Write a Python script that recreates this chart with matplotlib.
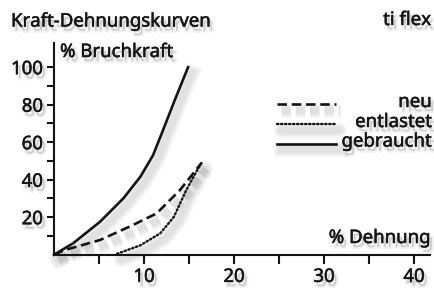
import matplotlib
matplotlib.use("Agg")
import matplotlib.pyplot as plt
import matplotlib.patheffects as pe
from matplotlib.lines import Line2D

# ---- data ----
neu_x = [0, 1.2, 5.1, 8.4, 11.4, 14.0, 16.4]
neu_y = [0, 2.5, 7.8, 15, 22, 34.5, 49]
entlastet_x = [7.0, 9.6, 11.8, 13.3, 14.7, 15.9, 16.4]
entlastet_y = [0.5, 5, 11.4, 20, 34.5, 45, 49]
gebraucht_x = [0, 2.1, 5.1, 7.7, 9.6, 11.0, 12.0, 13.3, 14.9]
gebraucht_y = [0, 6, 17.5, 30, 41.6, 53, 65, 81, 100]

x_ticks = [5, 10, 15, 20, 25, 30, 35, 40]
x_tick_labels = ["", "10", "", "20", "", "30", "", "40"]
y_ticks = [10, 20, 30, 40, 50, 60, 70, 80, 90, 100]
y_tick_labels = ["", "20", "", "40", "", "60", "", "80", "", "100"]
series_labels = ["neu", "entlastet", "gebraucht"]

FONT = ["Noto Sans", "DejaVu Sans"]
plt.rcParams["font.family"] = FONT
TXT = "#141414"
FS = 13.4

W, H = 434, 288
fig = plt.figure(figsize=(W / 100, H / 100), dpi=100)
fig.patch.set_facecolor("white")


def fx(x):
    return x / W


def fy(y):
    return 1 - y / H


def line_shadow():
    return [pe.SimpleLineShadow(offset=(3, -4), shadow_color="#000000", alpha=0.04, linewidth=w)
            for w in (11, 8, 5)] + [pe.Normal()]


def text_shadow():
    return [pe.SimplePatchShadow(offset=(2, -3), shadow_rgbFace="#000000", alpha=0.12),
            pe.Stroke(offset=(2, -3), linewidth=3, foreground="#000000", alpha=0.05),
            pe.Stroke(linewidth=0.35, foreground=TXT),
            pe.Normal()]


# axes: x 0 at px 54, 9 px/unit ; y 0 at px 254.7, 1.875 px/unit
x0, y0 = 54, 254.7
xmax, ymax = 41.8, 113
ax = fig.add_axes([fx(x0), fy(y0), (xmax * 9) / W, (ymax * 1.875) / H])
ax.set_xlim(0, xmax)
ax.set_ylim(0, ymax)
ax.patch.set_alpha(0)
for s in ("top", "right"):
    ax.spines[s].set_visible(False)
for s in ("left", "bottom"):
    ax.spines[s].set_linewidth(1.5)
    ax.spines[s].set_color(TXT)

ax.set_xticks(x_ticks)
ax.set_xticklabels(x_tick_labels)
ax.set_yticks(y_ticks)
ax.set_yticklabels(y_tick_labels)
ax.tick_params(axis="x", direction="out", length=6.5, width=1.5, pad=3,
               labelsize=FS, colors=TXT)
ax.tick_params(axis="y", direction="out", length=5, width=1.5, pad=3,
               labelsize=FS, colors=TXT)
for lab in ax.get_xticklabels() + ax.get_yticklabels():
    lab.set_path_effects(text_shadow())

lw = 1.9
dot_style = dict(lw=1.7, linestyle=(0, (0.6, 1.1)), dash_capstyle="round")
dash_style = dict(lw=lw, linestyle=(0, (3.6, 1.8)))
ax.plot(neu_x, neu_y, color=TXT, path_effects=line_shadow(), clip_on=False, **dash_style)
ax.plot(entlastet_x, entlastet_y, color=TXT, path_effects=line_shadow(), clip_on=False,
        **dot_style)
ax.plot(gebraucht_x, gebraucht_y, color=TXT, lw=lw, linestyle="-",
        path_effects=line_shadow(), clip_on=False)

# texts
fig.text(fx(11), fy(26.5), "Kraft-Dehnungskurven", fontsize=FS, color=TXT,
         va="baseline", ha="left", path_effects=text_shadow())
fig.text(fx(431), fy(25), "ti flex", fontsize=FS, color=TXT,
         va="baseline", ha="right", path_effects=text_shadow())
fig.text(fx(60), fy(57), "% Bruchkraft", fontsize=FS, color=TXT,
         va="baseline", ha="left", path_effects=text_shadow())
fig.text(fx(431), fy(243), "% Dehnung", fontsize=FS, color=TXT,
         va="baseline", ha="right", path_effects=text_shadow())

# legend (manual, labels right-aligned)
styles = [dash_style, dot_style, dict(lw=lw, linestyle="-")]
leg_y = [104, 124, 143.5]
for lab, st, yy in zip(series_labels, styles, leg_y):
    fig.add_artist(Line2D([fx(277), fx(336)], [fy(yy), fy(yy)], color=TXT,
                          transform=fig.transFigure, path_effects=line_shadow(), **st))
    fig.text(fx(432), fy(yy + 3), lab, fontsize=FS, color=TXT,
             va="baseline", ha="right", path_effects=text_shadow())

fig.savefig("out.png", dpi=100, facecolor="white")
